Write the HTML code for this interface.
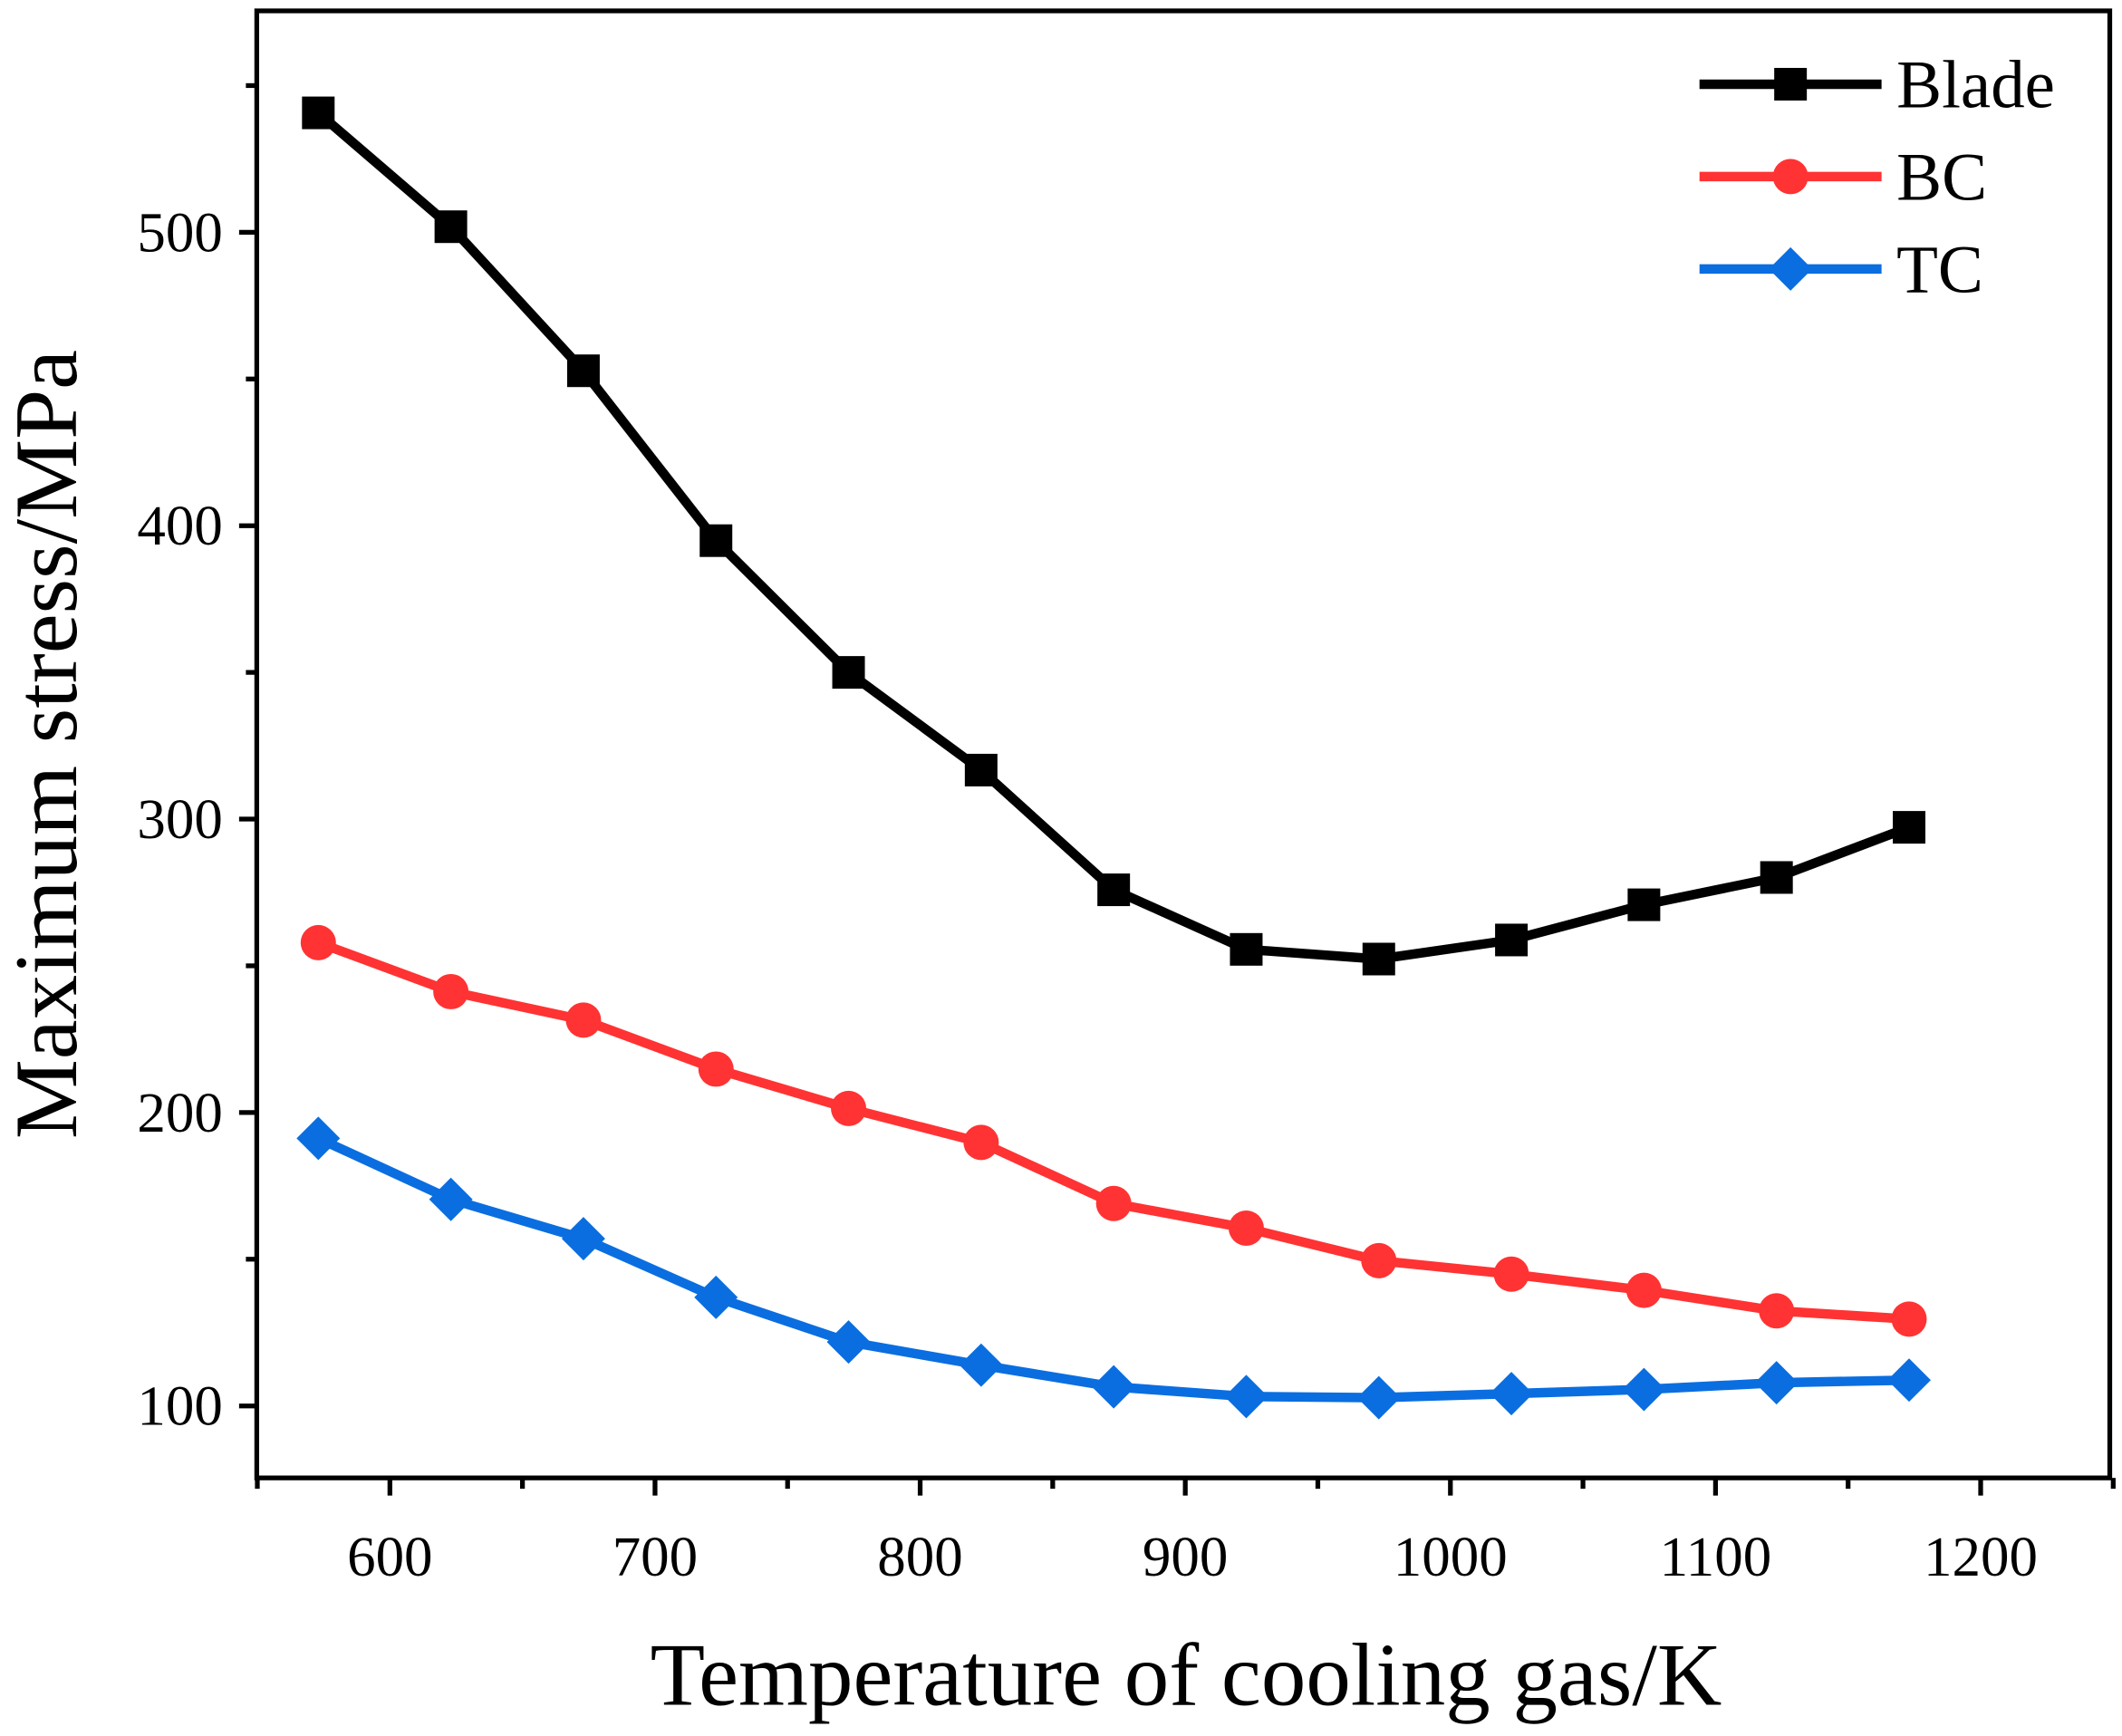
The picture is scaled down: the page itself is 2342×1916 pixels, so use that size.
<!DOCTYPE html>
<html><head><meta charset="utf-8"><style>
html,body{margin:0;padding:0;background:#fff;}
svg{display:block;}
text{font-family:"Liberation Serif",serif;fill:#000;}
</style></head><body>
<svg id="s" width="2342" height="1916" viewBox="0 0 1562 1278" preserveAspectRatio="none" xmlns="http://www.w3.org/2000/svg"></svg>
<script>
const s=document.getElementById('s');
const X=v=>287+(v-600)*1.9516, Y=v=>171+(500-v)*2.16;
let h='<rect x="189" y="8" width="1364" height="1080" fill="none" stroke="#000" stroke-width="3.5"/>';
for(let v=550;v<=1250;v+=50){const x=X(v),maj=v%100==0;h+=`<line x1="${x}" y1="1088" x2="${x}" y2="${1088+(maj?13:8)}" stroke="#000" stroke-width="3.5"/>`;
 if(maj&&v>=600&&v<=1200)h+=`<text x="${x}" y="1160" font-size="42" text-anchor="middle">${v}</text>`;}
for(let v=100;v<=550;v+=50){const y=Y(v),maj=v%100==0;h+=`<line x1="189" y1="${y}" x2="${189-(maj?13:8)}" y2="${y}" stroke="#000" stroke-width="3.5"/>`;
 if(maj&&v<=500)h+=`<text x="164" y="${y+14}" font-size="42" text-anchor="end">${v}</text>`;}
h+=`<text x="873" y="1255" font-size="66" text-anchor="middle">Temperature of cooling gas/K</text>`;
h+=`<text transform="translate(56,548) rotate(-90)" font-size="66" text-anchor="middle">Maximum stress/MPa</text>`;
const xs=[573,623,673,723,773,823,873,923,973,1023,1073,1123,1173];
const B=[540.7,501.9,452.8,394.9,350,316.7,275.9,255.6,252.3,258.8,270.8,280.1,297.2];
const C=[257.9,241.2,231.5,214.8,201.4,189.8,169,160.6,149.5,144.9,139.4,132.4,129.6];
const T=[191.2,170.4,157,137,121.8,113.9,106.5,103.2,102.8,104.2,105.6,107.9,108.8];
function mk(t,x,y,c){if(t==0)return `<rect x="${x-12}" y="${y-12}" width="24" height="24" fill="${c}"/>`;
 if(t==1)return `<circle cx="${x}" cy="${y}" r="13" fill="${c}"/>`;
 return `<polygon points="${x},${y-16} ${x+16},${y} ${x},${y+16} ${x-16},${y}" fill="${c}"/>`;}
[[B,'#000',0],[C,'#ff3333',1],[T,'#0a6ee0',2]].forEach(([d,c,t],i)=>{
 h+=`<polyline points="${d.map((v,j)=>X(xs[j])+','+Y(v)).join(' ')}" fill="none" stroke="${c}" stroke-width="7" stroke-linejoin="round"/>`;
 d.forEach((v,j)=>h+=mk(t,X(xs[j]),Y(v),c));
 const ly=62+i*68;
 h+=`<line x1="1251" y1="${ly}" x2="1385" y2="${ly}" stroke="${c}" stroke-width="7"/>`+mk(t,1318,ly,c);
 h+=`<text x="1396" y="${ly+17}" font-size="50">${['Blade','BC','TC'][i]}</text>`;
});
s.innerHTML=h;
</script>
</body></html>
